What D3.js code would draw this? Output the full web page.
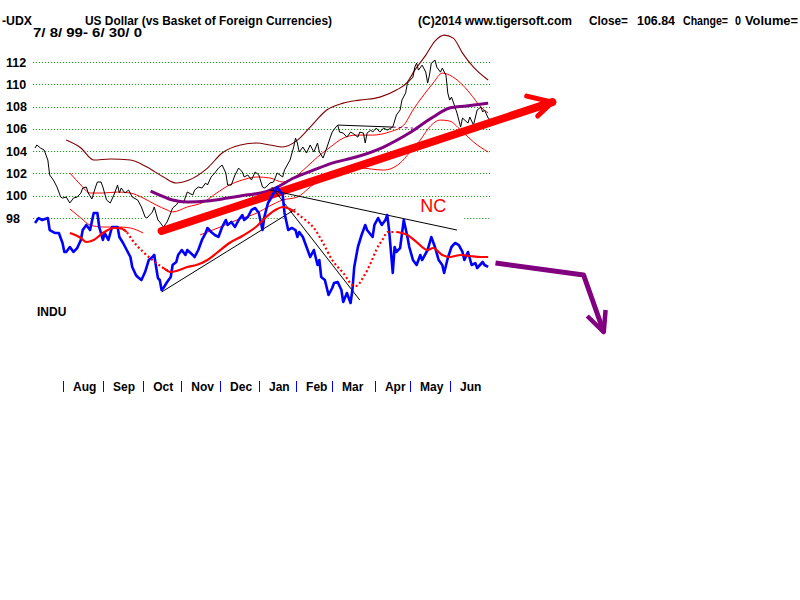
<!DOCTYPE html>
<html><head><meta charset="utf-8">
<script src="https://cdn.jsdelivr.net/npm/d3@7"></script>
<style>
body{margin:0;background:#fff}
text{font-family:"Liberation Sans",Arial,sans-serif;font-weight:bold;fill:#000}
</style>
</head><body>
<svg id="c" width="800" height="600"></svg>
<script>
// ---------- DATA ----------
const months = ["Aug","Sep","Oct","Nov","Dec","Jan","Feb","Mar","Apr","May","Jun"];
const monthTickDays = [15.3,37.1,59,79.7,100.9,122.1,142.3,161.9,185.3,204.4,226.2];
const yTicks = [112,110,108,106,104,102,100,98];
const grid98Segments = [[-1,59],[117,137],[234,248]];

// UDX closes: [trading day index, value]
const udx = [[0,104.28],[1,104.55],[3,104.28],[5,104.10],[7,103.20],[8,101.86],[10,101.41],[12,100.78],[14,99.88],[15,99.79],[17,99.88],[19,99.35],[21,99.79],[23,99.88],[25,100.24],[26,100.69],[28,100.78],[29,100.24],[31,99.70],[33,100.78],[34,101.23],[36,101.23],[37,100.78],[39,99.61],[41,99.35],[43,100.06],[45,100.96],[46,100.24],[47,100.69],[49,100.24],[51,100.51],[53,99.88],[56,99.61],[58,98.99],[60,98.09],[61,97.99],[64,98.54],[65,98.99],[67,97.82],[68,97.64],[70,97.19],[72,97.64],[74,98.45],[75,98.90],[77,99.17],[79,99.61],[81,99.35],[82,99.88],[83,100.33],[86,100.06],[87,100.51],[89,100.78],[91,100.69],[93,101.14],[94,100.96],[96,101.68],[98,102.04],[100,102.48],[102,102.75],[104,102.04],[105,100.96],[107,100.96],[109,101.86],[111,102.48],[113,102.13],[114,101.68],[116,101.86],[118,101.41],[120,102.13],[122,101.86],[124,100.78],[125,100.69],[126,100.78],[128,101.14],[130,101.23],[132,102.04],[135,101.68],[136,102.31],[139,103.20],[141,104.37],[142,105.17],[143,104.73],[144,103.92],[146,104.37],[148,103.83],[150,104.55],[152,103.92],[154,104.73],[155,103.92],[157,103.38],[159,104.28],[161,105.26],[162,105.71],[164,106.16],[165,106.34],[166,105.71],[168,105.62],[170,105.26],[172,105.71],[173,105.62],[176,105.26],[177,105.71],[179,105.62],[180,104.73],[181,105.62],[183,105.89],[184,105.71],[186,106.07],[188,105.71],[190,106.07],[192,105.89],[194,106.07],[195,106.16],[197,107.24],[199,107.69],[200,108.58],[202,109.21],[203,110.11],[206,110.64],[207,111.54],[208,111.90],[209,111.27],[211,111.72],[213,111.09],[214,110.11],[215,110.82],[216,111.90],[218,112.17],[219,111.54],[221,111.09],[222,111.45],[224,110.82],[225,109.21],[226,108.58],[227,108.85],[228,108.40],[230,107.42],[232,106.16],[233,106.97],[236,106.52],[237,107.06],[239,106.34],[241,107.69],[243,107.96],[244,107.51],[245,107.69],[247,106.97],[248,106.84]];

// Bands around UDX
const outerUpper = [[17,104.99],[25,104.28],[32,103.20],[41,103.29],[52,103.20],[61,102.57],[70,101.68],[77,101.14],[84,101.41],[94,102.48],[102,103.83],[112,104.55],[121,104.73],[128,104.55],[135,104.37],[143,104.99],[150,106.16],[159,107.69],[168,108.31],[177,108.58],[188,108.85],[197,109.48],[203,110.20],[207,111.27],[213,112.62],[218,113.87],[223,114.41],[228,114.14],[233,112.80],[239,111.54],[247,110.38]];
const innerUpper = [[19,102.04],[25,100.96],[30,100.24],[37,100.24],[45,100.33],[52,100.24],[59,99.79],[66,99.17],[72,98.72],[75,98.54],[83,98.99],[92,99.43],[99,100.24],[106,100.96],[113,101.41],[121,101.68],[128,101.59],[135,101.23],[141,101.59],[148,102.57],[154,103.47],[161,104.37],[168,105.17],[175,105.44],[184,105.44],[193,105.71],[201,106.34],[206,107.69],[211,108.85],[217,110.11],[222,111.00],[226,110.82],[232,110.11],[237,109.21],[243,107.96],[247,107.42]];
const innerLowerA = [[19,98.81],[25,98.00],[30,97.37],[37,97.19],[46,97.19],[52,97.10],[59,96.65]];
const innerLowerB = [[90,96.48],[101,97.19],[110,97.82],[121,98.45],[128,99.08],[135,99.61],[143,99.88],[150,100.78],[159,101.86],[168,102.30],[177,102.48],[190,102.30],[199,102.93],[204,103.83],[210,105.00],[215,106.16],[221,106.79],[226,106.70],[232,105.89],[239,104.82],[247,103.92]];
const purpleMA = [[63,100.42],[68,100.06],[75,99.61],[83,99.43],[94,99.52],[105,99.79],[115,100.06],[123,100.24],[131,100.69],[141,101.59],[152,102.31],[162,102.93],[175,103.47],[190,104.37],[204,105.62],[217,107.06],[226,107.87],[235,108.05],[247,108.31]];

// INDU (Dow Jones Industrials)
const indu = [[0,11150],[2,11233],[4,11200],[7,11233],[8,11033],[11,10983],[13,10983],[15,10817],[16,10667],[17,10667],[19,10750],[21,10667],[23,10733],[25,10867],[26,11033],[28,11117],[30,11033],[32,11317],[34,11317],[35,11083],[37,10867],[38,10983],[40,10867],[42,11083],[45,11083],[46,10917],[48,10817],[50,10700],[52,10583],[53,10417],[55,10283],[56,10250],[58,10200],[60,10333],[62,10533],[64,10583],[65,10617],[66,10417],[67,10233],[68,10200],[69,10033],[70,10067],[72,10167],[74,10250],[75,10450],[77,10500],[78,10617],[80,10700],[82,10617],[83,10700],[86,10617],[87,10583],[89,10700],[91,10867],[93,10983],[94,11067],[96,11000],[98,10950],[100,10917],[102,11083],[104,11200],[105,11117],[107,11167],[109,11083],[111,11200],[113,11283],[114,11200],[116,11250],[118,11367],[120,11400],[122,11317],[124,11033],[125,11250],[127,11483],[128,11533],[131,11700],[132,11750],[135,11617],[136,11317],[138,11033],[140,11067],[142,11033],[143,10917],[144,11000],[146,10917],[148,10750],[150,10583],[152,10700],[154,10450],[155,10533],[156,10250],[158,10200],[160,9950],[162,10067],[163,10150],[165,10167],[167,10033],[168,9833],[170,9983],[172,9817],[173,10033],[174,10417],[176,10750],[178,10950],[180,11117],[181,11033],[184,10917],[185,11117],[187,11233],[189,11117],[191,11200],[192,11283],[193,11033],[195,10317],[196,10750],[197,10667],[199,10733],[201,11200],[203,10917],[204,10750],[206,10533],[208,10450],[210,10617],[211,10533],[214,10700],[216,10917],[218,10750],[220,10533],[222,10450],[223,10317],[225,10567],[227,10750],[229,10817],[231,10783],[233,10667],[234,10533],[236,10667],[238,10450],[240,10483],[241,10400],[244,10500],[245,10450],[247,10417]];
const induMA = [[19,10983],[25,10900],[28,10833],[32,10867],[37,10983],[43,11067],[46,11067],[50,11000],[53,10867],[59,10667],[64,10533],[70,10400],[74,10333],[77,10350],[83,10417],[88,10450],[94,10533],[99,10650],[106,10817],[113,10933],[121,11100],[126,11250],[131,11367],[135,11417],[141,11350],[146,11233],[152,11067],[157,10817],[162,10533],[168,10317],[173,10117],[175,10100],[179,10250],[183,10483],[186,10700],[190,10900],[192,11000],[197,11000],[203,10950],[208,10833],[214,10700],[217,10733],[222,10617],[226,10583],[232,10617],[237,10600],[243,10583],[247,10583]];
const induMADotted = [[50,70],[145,193]];

// Annotations (drawn trendlines and arrows)
const supportLine = [[69,10000],[142,11383]];
const resistLine = [[128,11700],[230,11033]];
const declineLine = [[129,11750],[177,9867]];
const consolLine = [[165,106.34],[195,106.16]];
const consolDash = [[195,106.16],[206,106.07]];
const redArrow = [[69,96.83],[282,108.40]];
const redArrowHead = [[268,108.94],[282,108.40],[274,107.15]];
const purpleArrow = [[251,10483],[299,10283],[310,9333]];
const purpleArrowHead = [[301,9600],[310,9333],[311,9700]];
const ncLabel = {day:210, v:11333, text:"NC"};

// ---------- DRAW ----------
const svg = d3.select("#c");
const x = d3.scaleLinear().domain([0,248]).range([35,490]);
const y = d3.scaleLinear().domain([98,112]).range([218,62]);
const yI = d3.scaleLinear().domain([9700,11700]).range([310,190]);

const lineU = d3.line().x(d=>x(d[0])).y(d=>y(d[1]));
const lineI = d3.line().x(d=>x(d[0])).y(d=>yI(d[1]));
const smoothU = d3.line().x(d=>x(d[0])).y(d=>y(d[1])).curve(d3.curveMonotoneX);
const smoothI = d3.line().x(d=>x(d[0])).y(d=>yI(d[1])).curve(d3.curveMonotoneX);

// gridlines
const gridG = svg.append("g");
yTicks.forEach(t=>{
  const segs = t===98 ? grid98Segments : [[-1,248]];
  segs.forEach(s=>{
    gridG.append("line").attr("x1",x(s[0])).attr("x2",x(s[1]))
      .attr("y1",Math.round(y(t))+0.5).attr("y2",Math.round(y(t))+0.5)
      .attr("stroke","#008000").attr("stroke-width",1).attr("stroke-dasharray","1,2");
  });
});
// y labels
svg.append("g").selectAll("text").data(yTicks).join("text")
  .attr("x",6).attr("y",d=>y(d)+4.5).attr("font-size",12.5).text(d=>d);

// bands
const bandG = svg.append("g").attr("fill","none");
bandG.append("path").attr("d",smoothU(outerUpper)).attr("stroke","#800000").attr("stroke-width",1.1);
bandG.append("path").attr("d",smoothU(innerUpper)).attr("stroke","#ff0000").attr("stroke-width",1);
bandG.append("path").attr("d",smoothU(innerLowerA)).attr("stroke","#ff0000").attr("stroke-width",1);
bandG.append("path").attr("d",smoothU(innerLowerB)).attr("stroke","#ff0000").attr("stroke-width",1);

// UDX price
svg.append("path").attr("d",lineU(udx)).attr("fill","none").attr("stroke","#000").attr("stroke-width",1);
svg.append("path").attr("d",lineU(consolLine)).attr("fill","none").attr("stroke","#000").attr("stroke-width",1);
svg.append("path").attr("d",lineU(consolDash)).attr("fill","none").attr("stroke","#800080").attr("stroke-width",1).attr("stroke-dasharray","3,3");

// purple MA
svg.append("path").attr("d",smoothU(purpleMA)).attr("fill","none").attr("stroke","#800080").attr("stroke-width",3);

// big red arrow
svg.append("path").attr("d",lineU(redArrow)).attr("fill","none").attr("stroke","#ff0000").attr("stroke-width",8).attr("stroke-linecap","round");
svg.append("path").attr("d",lineU(redArrowHead)).attr("fill","none").attr("stroke","#ff0000").attr("stroke-width",5).attr("stroke-linecap","round").attr("stroke-linejoin","round");

// thin black trendlines
[supportLine,resistLine,declineLine].forEach(l=>{
  svg.append("path").attr("d",lineI(l)).attr("fill","none").attr("stroke","#000").attr("stroke-width",1);
});

// INDU
svg.append("path").attr("d",lineI(indu)).attr("fill","none").attr("stroke","#0000ff").attr("stroke-width",2.6).attr("stroke-linejoin","round");

// INDU moving average: solid outside dotted ranges, dotted inside
const inDot = d => induMADotted.some(r=>d[0]>r[0] && d[0]<r[1]);
const maSolid = d3.line().defined(d=>!inDot(d)).x(d=>x(d[0])).y(d=>yI(d[1])).curve(d3.curveMonotoneX);
svg.append("path").attr("d",maSolid(induMA)).attr("fill","none").attr("stroke","#ff0000").attr("stroke-width",2.2);
induMADotted.forEach(r=>{
  const seg = induMA.filter(d=>d[0]>=r[0]-6 && d[0]<=r[1]+6);
  svg.append("path").attr("d",smoothI(seg)).attr("fill","none").attr("stroke","#ff0000").attr("stroke-width",2.2).attr("stroke-dasharray","2,2.5");
});

// purple down arrow
svg.append("path").attr("d",lineI(purpleArrow)).attr("fill","none").attr("stroke","#800080").attr("stroke-width",5).attr("stroke-linejoin","round");
svg.append("path").attr("d",lineI(purpleArrowHead)).attr("fill","none").attr("stroke","#800080").attr("stroke-width",4.5).attr("stroke-linejoin","round");

// NC
svg.append("text").attr("x",x(ncLabel.day)).attr("y",yI(ncLabel.v)).attr("font-size",18)
  .style("font-weight","normal").style("fill","#ff0000").text(ncLabel.text);

// x axis months
const xa = svg.append("g");
monthTickDays.forEach((t,i)=>{
  xa.append("line").attr("x1",Math.round(x(t))+0.5).attr("x2",Math.round(x(t))+0.5)
    .attr("y1",381).attr("y2",392).attr("stroke","#0000ff").attr("stroke-width",1);
  xa.append("text").attr("x",x(t)+10).attr("y",391).attr("font-size",12).text(months[i]);
});

// header texts
const hdr = [
  ["-UDX",2,25,30],
  ["US Dollar (vs Basket of Foreign Currencies)",85,25,247],
  ["7/ 8/ 99- 6/ 30/ 0",33,37,109],
  ["(C)2014 www.tigersoft.com",418,25,154],
  ["Close=",589,25,39],
  ["106.84",637,25,38],
  ["Change=",683,25,45],
  ["0",735,25,6],
  ["Volume=",745,25,53]
];
hdr.forEach(h=>{
  svg.append("text").attr("x",h[1]).attr("y",h[2]).attr("font-size",12)
    .attr("textLength",h[3]).attr("lengthAdjust","spacingAndGlyphs").text(h[0]);
});
svg.append("text").attr("x",37).attr("y",316).attr("font-size",12).text("INDU");
</script>
</body></html>
